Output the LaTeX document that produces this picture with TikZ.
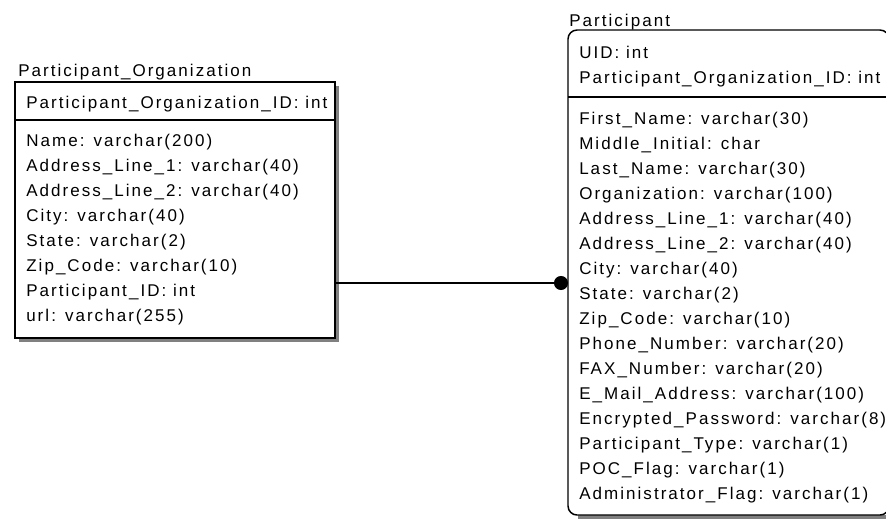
\documentclass[tikz,border=0pt]{standalone}
\usepackage{fontspec}
\newfontfamily\erdfont[LetterSpace=12]{Liberation Sans}
\usetikzlibrary{arrows.meta}

\begin{document}
\begin{tikzpicture}[x=0.75pt,y=0.75pt,yscale=-1,xscale=1,
  entity/.style={line width=1.1pt},
  shadowfill/.style={fill=black!50},
  attr/.style={anchor=base west, inner sep=0.75pt, font=\erdfont\fontsize{12.75pt}{15pt}\selectfont}]
\useasboundingbox (0,0) rectangle (886,519);
\clip (0,0) rectangle (886,519);

%Shape: Shadow of Participant_Organization
\fill[shadowfill] (335,86) rectangle (339,342);
\fill[shadowfill] (19,338) rectangle (339,342);
%Shape: Shadow of Participant
\fill[shadowfill] (578,515) rectangle (893,519);

%Shape: Rectangle Participant_Organization
\draw[entity, fill=white] (15,82) rectangle (335,338);
%Straight Lines
\draw[entity] (15,120) -- (335,120);
%Shape: Rounded Rectangle Participant
\draw[entity, fill=white, rounded corners=6.75pt] (568,30) rectangle (889,515);
%Straight Lines
\draw[entity] (568,97) -- (889,97);

%Straight Lines (relationship)
\coordinate (orgLink) at (335,283);
\coordinate (partLink) at (568,283);
\draw[entity, -{Circle[length=10.5pt]}] (orgLink) -- (partLink);

% Text Node
\draw (17,76) node [attr] (orgTitle) {Participant\_Organization};
% Text Node
\draw (25,108) node [attr] (orgKey) {Participant\_Organization\_ID: int};
% Text Node
\draw (25,146) node [attr] (orgName) {Name: varchar(200)};
% Text Node
\draw (25,171) node [attr] (orgAddrA) {Address\_Line\_1: varchar(40)};
% Text Node
\draw (25,196) node [attr] (orgAddrB) {Address\_Line\_2: varchar(40)};
% Text Node
\draw (25,221) node [attr] (orgCity) {City: varchar(40)};
% Text Node
\draw (25,246) node [attr] (orgState) {State: varchar(2)};
% Text Node
\draw (25,271) node [attr] (orgZip) {Zip\_Code: varchar(10)};
% Text Node
\draw (25,296) node [attr] (orgPart) {Participant\_ID: int};
% Text Node
\draw (25,321) node [attr] (orgUrl) {url: varchar(255)};

% Text Node
\draw (568,26) node [attr] (partTitle) {Participant};
% Text Node
\draw (578,58) node [attr] (partUid) {UID: int};
% Text Node
\draw (578,83) node [attr] (partOrg) {Participant\_Organization\_ID: int};
% Text Node
\draw (578,124) node [attr] (partFirst) {First\_Name: varchar(30)};
% Text Node
\draw (578,149) node [attr] (partMiddle) {Middle\_Initial: char};
% Text Node
\draw (578,174) node [attr] (partLast) {Last\_Name: varchar(30)};
% Text Node
\draw (578,199) node [attr] (partOrgName) {Organization: varchar(100)};
% Text Node
\draw (578,224) node [attr] (partAddrA) {Address\_Line\_1: varchar(40)};
% Text Node
\draw (578,249) node [attr] (partAddrB) {Address\_Line\_2: varchar(40)};
% Text Node
\draw (578,274) node [attr] (partCity) {City: varchar(40)};
% Text Node
\draw (578,299) node [attr] (partState) {State: varchar(2)};
% Text Node
\draw (578,324) node [attr] (partZip) {Zip\_Code: varchar(10)};
% Text Node
\draw (578,349) node [attr] (partPhone) {Phone\_Number: varchar(20)};
% Text Node
\draw (578,374) node [attr] (partFax) {FAX\_Number: varchar(20)};
% Text Node
\draw (578,399) node [attr] (partMail) {E\_Mail\_Address: varchar(100)};
% Text Node
\draw (578,424) node [attr] (partPass) {Encrypted\_Password: varchar(8)};
% Text Node
\draw (578,449) node [attr] (partType) {Participant\_Type: varchar(1)};
% Text Node
\draw (578,474) node [attr] (partPoc) {POC\_Flag: varchar(1)};
% Text Node
\draw (578,499) node [attr] (partAdmin) {Administrator\_Flag: varchar(1)};

\end{tikzpicture}
\end{document}
